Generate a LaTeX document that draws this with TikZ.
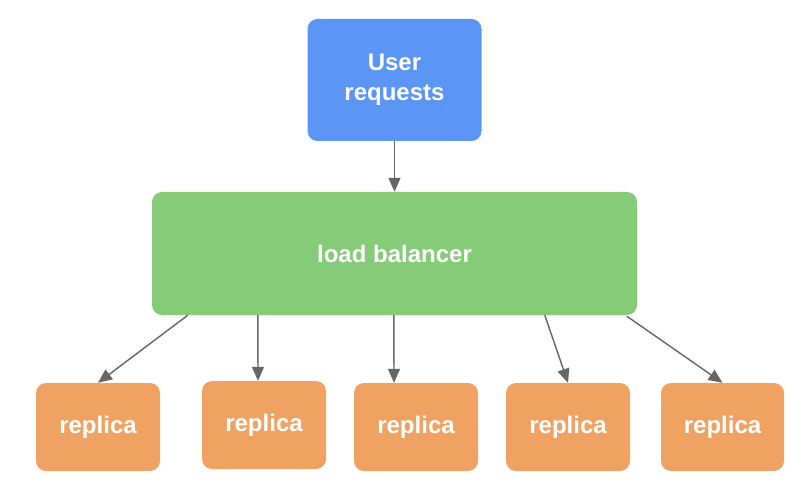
\documentclass[tikz,border=0pt]{standalone}
\usepackage{fontspec}
\setmainfont{Liberation Sans}
\usetikzlibrary{arrows.meta}
\definecolor{ublue}{HTML}{5B96F7}
\definecolor{lgreen}{HTML}{85CB78}
\definecolor{rorange}{HTML}{F0A263}
\definecolor{agray}{HTML}{666666}
\begin{document}
\begin{tikzpicture}[x=1pt,y=-1pt,
  box/.style={draw=none,rounded corners=10pt,text=white,inner sep=0pt,
    font=\fontsize{24}{30}\selectfont\bfseries,align=center},
  arr/.style={draw=agray,line width=1.4pt,-{Triangle[length=14pt,width=12pt]}}]
\useasboundingbox (0,0) rectangle (810,502);
\fill[white] (0,0) rectangle (810,502);
\node[box,fill=ublue,minimum width=174pt,minimum height=122pt] (user) at (394.5,80) {User\\requests};
\node[box,fill=lgreen,minimum width=485pt,minimum height=123pt] (lb) at (394.5,253.5) {load balancer};
\node[box,fill=rorange,minimum width=124pt,minimum height=88pt] (r1) at (98,427) {replica};
\node[box,fill=rorange,minimum width=124pt,minimum height=88pt] (r2) at (264,425) {replica};
\node[box,fill=rorange,minimum width=124pt,minimum height=88pt] (r3) at (416,427) {replica};
\node[box,fill=rorange,minimum width=124pt,minimum height=88pt] (r4) at (568,427) {replica};
\node[box,fill=rorange,minimum width=123pt,minimum height=88pt] (r5) at (722.5,427) {replica};
\draw[arr] (user.south) -- (lb.north);
\draw[arr] ([xshift=36pt]lb.south west) -- (r1.north);
\draw[arr] ([xshift=106pt]lb.south west) -- ([xshift=-6pt]r2.north);
\draw[arr] ([xshift=242pt]lb.south west) -- ([xshift=-22pt]r3.north);
\draw[arr] ([xshift=393pt]lb.south west) -- (r4.north);
\draw[arr] ([xshift=475pt,yshift=-1pt]lb.south west) -- (r5.north);
\end{tikzpicture}
\end{document}
